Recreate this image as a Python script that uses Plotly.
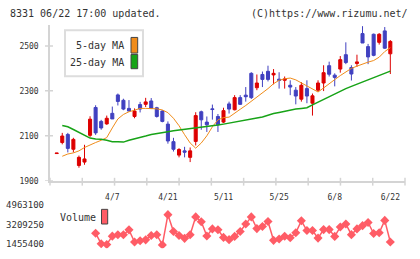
import plotly.graph_objects as go

W, H = 420, 259

dates = ["3/24","3/25","3/28","3/29","3/30","3/31","4/1","4/4","4/5","4/6",
         "4/7","4/8","4/11","4/12","4/13","4/14","4/15","4/18","4/19","4/20",
         "4/21","4/22","4/25","4/26","4/27","4/28","5/2","5/6","5/9","5/10",
         "5/11","5/12","5/13","5/16","5/17","5/18","5/19","5/20","5/23","5/24",
         "5/25","5/26","5/27","5/30","5/31","6/1","6/2","6/3","6/6","6/7",
         "6/8","6/9","6/10","6/13","6/14","6/15","6/16","6/17","6/20","6/21",
         "6/22"]

opens  = [2021,2070,2106,2040,1968,1983,2102,2226,2164,2153,
          2200,2282,2258,2222,2186,2239,2240,2255,2225,2210,
          2152,2074,2014,2033,2004,2075,2207,2161,2220,2186,
          2161,2242,2216,2270,2281,2378,2314,2373,2387,2371,
          2352,2347,2325,2303,2263,2310,2245,2303,2335,2412,
          2370,2397,2461,2404,2422,2555,2497,2552,2516,2567,
          2465]
highs  = [2023,2113,2113,2091,2012,2060,2187,2236,2171,2190,
          2230,2288,2265,2259,2222,2251,2269,2268,2229,2214,
          2164,2091,2045,2051,2048,2205,2212,2186,2239,2197,
          2225,2252,2281,2281,2317,2383,2373,2386,2412,2397,
          2383,2364,2347,2317,2339,2347,2288,2347,2414,2430,
          2378,2455,2516,2414,2461,2588,2509,2555,2557,2584,
          2526]
lows   = [2021,2062,2026,2026,1958,1971,2095,2104,2127,2149,
          2175,2235,2214,2210,2178,2204,2228,2219,2181,2160,
          2065,2030,2004,2004,1983,2057,2127,2117,2172,2117,
          2157,2199,2213,2238,2252,2264,2303,2317,2342,2329,
          2310,2310,2281,2240,2252,2245,2190,2296,2299,2364,
          2320,2381,2419,2346,2407,2513,2419,2454,2506,2487,
          2375]
closes = [2023,2099,2044,2084,2004,1997,2174,2113,2135,2178,
          2175,2253,2219,2210,2210,2219,2251,2222,2186,2164,
          2077,2040,2039,2027,2033,2190,2171,2149,2217,2149,
          2212,2219,2270,2240,2274,2270,2335,2351,2351,2378,
          2346,2353,2317,2277,2325,2277,2278,2335,2381,2374,
          2360,2439,2426,2375,2429,2513,2451,2458,2552,2490,
          2520]

ma5 = [None,2009,2019,2024,2033,2048,2060,2070,2080,2092,
       2135,2175,2195,2207,2214,2222,2222,2222,2220,2215,
       2203,2178,2145,2105,2068,2045,2068,2100,2140,2171,
       2181,2183,2199,2218,2235,2253,2275,2290,2310,2332,
       2347,2354,2357,2349,2336,2322,2308,2295,2313,2333,
       2350,2368,2385,2400,2410,2420,2428,2435,2450,2475,
       2492]
ma25 = [None,2146,2140,2128,2116,2104,2090,2086,2085,2080,
        2074,2073,2072,2080,2086,2090,2099,2106,2111,2114,
        2118,2122,2125,2127,2130,2135,2139,2141,2144,2148,
        2152,2156,2162,2167,2171,2175,2179,2184,2193,2199,
        2204,2210,2214,2219,2222,2225,2238,2250,2265,2277,
        2288,2299,2310,2320,2330,2341,2351,2361,2370,2378,
        2388]
volume = [None,None,None,None,None,None,None,2446000,1499000,1429000,
          2183000,2306000,2306000,2745000,1657000,1762000,1850000,2245000,2306000,1394000,
          4111000,2595000,2245000,1982000,2306000,3909000,3472000,2201000,2832000,2753000,
          2069000,1868000,2157000,2595000,3271000,3909000,2858000,3051000,3490000,1806000,
          1929000,2174000,2043000,2481000,3560000,2683000,2683000,2008000,2771000,2771000,
          2157000,3008000,3271000,2315000,2832000,3122000,3411000,2420000,2481000,3595000,
          1657000]

price_ticks = [1900, 2100, 2300, 2500]
vol_ticks = [1455400, 3209250, 4963100]
date_tick_idx = [10, 20, 30, 40, 50, 60]

RED = "#dd0000"
BLUE = "#4040c0"
ORANGE = "#f08c1a"
GREEN = "#17a317"
VOLC = "#ff5c66"
AXC = "#d4d4d4"
TXT = "#333333"
FONT = "DejaVu Sans Mono"

def px(x):
    return x / W

def py(y):
    return 1 - y / H

idx = list(range(len(dates)))

fig = go.Figure()
fig.add_trace(go.Candlestick(
    x=idx, open=opens, high=highs, low=lows, close=closes,
    increasing=dict(line=dict(color=RED, width=1), fillcolor=RED),
    decreasing=dict(line=dict(color=BLUE, width=1), fillcolor=BLUE),
    whiskerwidth=0, showlegend=False, hoverinfo="skip"))
fig.add_trace(go.Scatter(x=idx, y=ma5, mode="lines",
                         line=dict(color=ORANGE, width=1), showlegend=False,
                         hoverinfo="skip"))
fig.add_trace(go.Scatter(x=idx, y=ma25, mode="lines",
                         line=dict(color=GREEN, width=1.5), showlegend=False,
                         hoverinfo="skip"))
fig.add_trace(go.Scatter(x=idx, y=volume, mode="lines+markers", yaxis="y2",
                         line=dict(color=VOLC, width=1.5),
                         marker=dict(symbol="diamond", size=7, color=VOLC),
                         showlegend=False, hoverinfo="skip"))

x0p, x1p = 50, 405
xr0 = -1.205
xr1 = 62.64
vol_per_px = (vol_ticks[2] - vol_ticks[0]) / 40.0

fig.update_layout(
    width=W, height=H, margin=dict(l=0, r=0, t=0, b=0),
    paper_bgcolor="white", plot_bgcolor="white",
    font=dict(family=FONT, color=TXT),
    boxgap=0.22,
    xaxis=dict(domain=[px(x0p), px(x1p)], range=[xr0, xr1], anchor="y",
               showline=True, linecolor=AXC, linewidth=1.5,
               showgrid=False, zeroline=False, ticks="",
               tickvals=date_tick_idx,
               ticktext=[dates[i] for i in date_tick_idx],
               tickfont=dict(size=8, family=FONT, color=TXT),
               ticklabelstandoff=8,
               rangeslider=dict(visible=False), fixedrange=True),
    yaxis=dict(domain=[py(184), py(25)], range=[1900, 1900 + 159 * 200 / 46],
               showline=True, linecolor=AXC, linewidth=1.5,
               showgrid=False, zeroline=False, ticks="",
               tickvals=price_ticks, ticktext=[str(v) for v in price_ticks],
               tickfont=dict(size=8, family=FONT, color=TXT),
               ticklabelstandoff=8, fixedrange=True),
    yaxis2=dict(domain=[py(253), py(205)],
                range=[vol_ticks[0] - 4 * vol_per_px, vol_ticks[2] + 4 * vol_per_px],
                anchor="x", showline=False, showgrid=False, zeroline=False,
                ticks="", tickvals=vol_ticks, ticktext=[str(v) for v in vol_ticks],
                tickfont=dict(size=9, family=FONT, color=TXT),
                ticklabelstandoff=5, fixedrange=True),
)

shapes = []
for k in range(12):
    xp = (x0p + k * (x1p - x0p) / 11) / W
    shapes.append(dict(type="line", xref="paper", yref="paper",
                       x0=xp, x1=xp, y0=py(181), y1=py(189),
                       line=dict(color=AXC, width=1.5)))
for v in price_ticks:
    shapes.append(dict(type="line", xref="paper", yref="y",
                       x0=px(45), x1=px(53), y0=v, y1=v,
                       line=dict(color=AXC, width=1.5)))
shapes.append(dict(type="rect", xref="paper", yref="paper",
                   x0=px(65), x1=px(143), y0=py(77), y1=py(30),
                   line=dict(color="#dddddd", width=2), fillcolor="white"))
shapes.append(dict(type="rect", xref="paper", yref="paper",
                   x0=px(131), x1=px(137.7), y0=py(53.3), y1=py(37.3),
                   line=dict(color="#444444", width=1), fillcolor=ORANGE))
shapes.append(dict(type="rect", xref="paper", yref="paper",
                   x0=px(131), x1=px(137.7), y0=py(69.3), y1=py(54.7),
                   line=dict(color="#444444", width=1), fillcolor=GREEN))
shapes.append(dict(type="rect", xref="paper", yref="paper",
                   x0=px(101.5), x1=px(107.7), y0=py(228.3), y1=py(213.3),
                   line=dict(color="#444444", width=1), fillcolor=VOLC))
fig.update_layout(shapes=shapes)

ann = [
    dict(text="8331 06/22 17:00 updated.", x=px(8), y=py(13), xanchor="left"),
    dict(text="(C)https://www.rizumu.net/", x=px(410), y=py(13), xanchor="right"),
    dict(text="5-day MA", x=px(126), y=py(46), xanchor="right"),
    dict(text="25-day MA", x=px(126), y=py(63), xanchor="right"),
    dict(text="Volume", x=px(58), y=py(222), xanchor="left"),
]
for a in ann:
    a.update(xref="paper", yref="paper", yanchor="middle", showarrow=False,
             font=dict(size=10, family=FONT, color=TXT))
fig.update_layout(annotations=ann)

fig.write_html("out.html")
